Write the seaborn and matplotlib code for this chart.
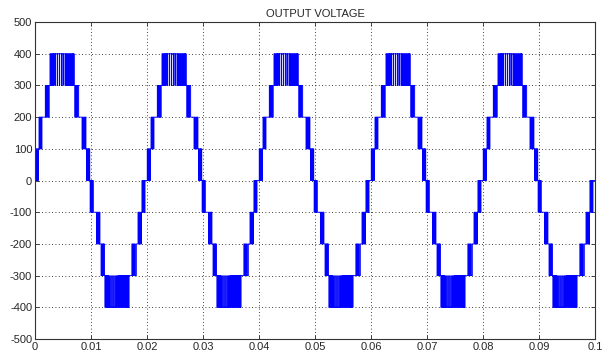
import numpy as np
import pandas as pd
import matplotlib
matplotlib.use("Agg")
import matplotlib.pyplot as plt
import seaborn as sns

# one 20 ms period of the 9-level PWM output:
# switching instants (ms) and the level (V) the output takes after each edge
period_ms = 20.0
n_periods = 5
edge_ms = [
    0.00, 0.05, 0.15, 0.25, 0.32, 0.45, 0.50, 0.60,
    0.72, 0.80, 0.90, 1.00, 1.10, 1.15, 1.25,
    1.85, 1.95, 2.10, 2.20, 2.35, 2.42, 2.55,
    2.68, 2.80, 2.90, 3.02, 3.10, 3.22, 3.28, 3.38, 3.42,
    3.64, 3.70, 4.00, 4.05, 4.36, 4.40, 4.71, 4.75, 5.00, 5.05,
    5.36, 5.44, 5.56, 5.66, 5.76, 5.88, 5.96, 6.08, 6.16, 6.28,
    6.34, 6.46, 6.52, 6.64, 6.70, 6.80, 6.86, 6.94, 6.98,
    7.10, 7.22, 7.32, 7.44, 7.52, 7.62, 7.80,
    8.40, 8.52, 8.62, 8.76, 8.86, 9.00, 9.10,
    9.20, 9.32, 9.42, 9.52, 9.60, 9.66, 9.78,
    9.85, 9.97, 10.07, 10.17, 10.25, 10.31, 10.40,
    11.00, 11.12, 11.22, 11.32, 11.45, 11.50, 11.60,
    11.80, 11.92, 12.02, 12.12, 12.20, 12.26, 12.40,
    12.48, 12.60, 12.70, 12.82, 12.90, 13.02, 13.08, 13.20, 13.26,
    13.55, 13.60, 13.91, 13.96, 14.27, 14.32,
    14.60, 14.66, 14.84, 14.94, 15.04, 15.16, 15.24, 15.36, 15.44, 15.56,
    15.64, 15.76, 15.84, 15.96, 16.04, 16.16, 16.22, 16.34, 16.40, 16.50,
    16.56, 16.64, 16.68, 16.74, 16.78,
    17.30, 17.42, 17.55, 17.67, 17.80, 17.90, 18.10,
    18.40, 18.52, 18.62, 18.72, 18.85, 18.90, 19.00,
    19.10, 19.22, 19.32, 19.42, 19.50, 19.56, 19.65,
]
edge_level = [
    0, 100, 0, 100, 0, 100, 0, 100,
    200, 100, 200, 100, 200, 100, 200,
    300, 200, 300, 200, 300, 200, 300,
    400, 300, 400, 300, 400, 300, 400, 300, 400,
    300, 400, 300, 400, 300, 400, 300, 400, 300, 400,
    300, 400, 300, 400, 300, 400, 300, 400, 300, 400,
    300, 400, 300, 400, 300, 400, 300, 400, 300,
    200, 300, 200, 300, 200, 300, 200,
    100, 200, 100, 200, 100, 200, 100,
    0, 100, 0, 100, 0, 100, 0,
    -100, 0, -100, 0, -100, 0, -100,
    -200, -100, -200, -100, -200, -100, -200,
    -300, -200, -300, -200, -300, -200, -300,
    -400, -300, -400, -300, -400, -300, -400, -300, -400,
    -300, -400, -300, -400, -300, -400,
    -300, -400, -300, -400, -300, -400, -300, -400, -300, -400,
    -300, -400, -300, -400, -300, -400, -300, -400, -300, -400,
    -300, -400, -300, -400, -300,
    -200, -300, -200, -300, -200, -300, -200,
    -100, -200, -100, -200, -100, -200, -100,
    0, -100, 0, -100, 0, -100, 0,
]

x_ticks = [0, 0.01, 0.02, 0.03, 0.04, 0.05, 0.06, 0.07, 0.08, 0.09, 0.1]
x_labels = ["0", "0.01", "0.02", "0.03", "0.04", "0.05", "0.06", "0.07", "0.08", "0.09", "0.1"]
y_ticks = [-500, -400, -300, -200, -100, 0, 100, 200, 300, 400, 500]

# repeat the period over the 0.1 s window
t = np.concatenate([np.array(edge_ms) + k * period_ms for k in range(n_periods)] + [[n_periods * period_ms]])
v = np.concatenate([edge_level] * n_periods + [[0]])
df = pd.DataFrame({"time": t / 1000.0, "voltage": v})

sns.set_style("ticks")
plt.rcParams["font.family"] = ["Liberation Sans", "DejaVu Sans"]
plt.rcParams["axes.unicode_minus"] = False

fig = plt.figure(figsize=(6.02, 3.61), dpi=100)
ax = fig.add_axes([0.0581, 0.0609, 0.9302, 0.878])

sns.lineplot(data=df, x="time", y="voltage", ax=ax, color="#0000ff",
             linewidth=0.65, estimator=None, sort=False, drawstyle="steps-post")

ax.set_xlim(0, 0.1)
ax.set_ylim(-500, 500)
ax.set_xticks(x_ticks)
ax.set_xticklabels(x_labels)
ax.set_yticks(y_ticks)
ax.set_xlabel("")
ax.set_ylabel("")
ax.set_title("OUTPUT VOLTAGE", fontsize=8, pad=4)
ax.grid(True, color="black", linestyle=(0, (1, 3)), linewidth=0.6)
ax.tick_params(direction="in", length=3, width=0.6, labelsize=8,
               top=True, right=True, pad=2)
for s in ax.spines.values():
    s.set_linewidth(0.8)
    s.set_color("#333333")

fig.savefig("out.png", dpi=100)
plt.close()
